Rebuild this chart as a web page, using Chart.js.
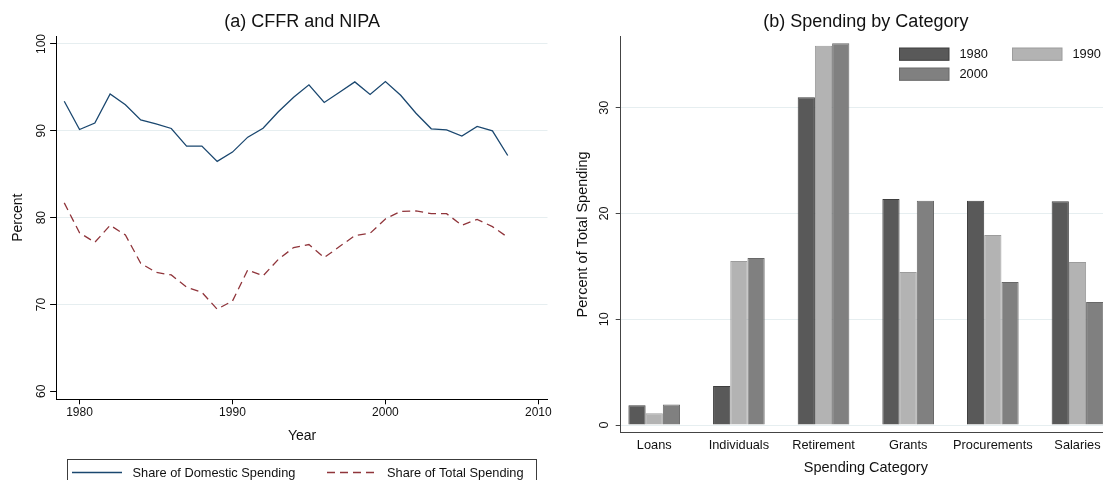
<!DOCTYPE html>
<html>
<head>
<meta charset="utf-8">
<script src="https://cdn.jsdelivr.net/npm/chart.js@4.4.1/dist/chart.umd.min.js"></script>
<style>
  html,body{margin:0;padding:0;background:#fff}
  body{width:1103px;height:480px;overflow:hidden;position:relative}
  .panel{position:absolute;top:0;height:480px}
</style>
</head>
<body>
<div class="panel" style="left:0;width:604px"><canvas id="cffrChart" width="604" height="480"></canvas></div>
<div class="panel" style="left:560px;width:612px"><canvas id="categoryChart" width="612" height="480"></canvas></div>
<script>
// ── Panel (a): shares by year ──
var years=[1979,1980,1981,1982,1983,1984,1985,1986,1987,1988,1989,1990,1991,1992,1993,1994,1995,1996,1997,1998,1999,2000,2001,2002,2003,2004,2005,2006,2007,2008];
var domesticShare=[93.4,90.15,90.9,94.25,93.0,91.26,90.8,90.27,88.24,88.24,86.48,87.55,89.27,90.3,92.2,93.87,95.3,93.26,94.44,95.63,94.18,95.67,94.1,92.03,90.23,90.1,89.4,90.5,90.0,87.16];
var totalShare=[81.7,78.25,77.16,79.12,78.0,74.75,73.7,73.4,72.0,71.4,69.46,70.4,73.98,73.3,75.2,76.55,76.9,75.4,76.67,77.93,78.2,79.85,80.73,80.77,80.46,80.46,79.12,79.8,78.97,77.74];
var yearTicks=[1980,1990,2000,2010];
var percentTicks=[60,70,80,90,100];

// ── Panel (b): spending by category ──
var categories=['Loans','Individuals','Retirement','Grants','Procurements','Salaries'];
var share1980=[1.86,3.69,31.0,21.38,21.2,21.16];
var share1990=[1.1,15.5,35.86,14.47,17.97,15.42];
var share2000=[1.95,15.8,36.1,21.2,13.53,11.64];
var categoryTicks=[0,10,20,30];

var FONT='"Liberation Sans", Arial, Helvetica, sans-serif';
var GRID='#e6eef0';

function toPoints(xs,ys){return xs.map(function(x,i){return {x:x,y:ys[i]}})}
function fixedTicks(list){return function(s){s.ticks=list.map(function(v){return {value:v}})}}
function plainLabel(v){return String(v)}
var catIndex=categories.map(function(c,i){return i});

// panel heading, centred over the plot region rather than the whole canvas
var panelTitle={
  id:'panelTitle',
  afterDraw:function(chart,args,opts){
    var a=chart.chartArea, ctx=chart.ctx;
    ctx.save();
    ctx.font='18px '+FONT;ctx.fillStyle='#111';ctx.textAlign='center';ctx.textBaseline='middle';
    ctx.fillText(opts.text,(a.left+a.right)/2,22);
    ctx.restore();
  }
};

// boxed legend under panel (a), line samples taken from the datasets
var lineLegend={
  id:'lineLegend',
  afterDraw:function(chart){
    var ctx=chart.ctx, pos=[[72,122,132.5],[327,376,387]];
    ctx.save();
    ctx.strokeStyle='#3c3c3c';ctx.lineWidth=1;
    ctx.strokeRect(67.5,459.5,469,40);
    ctx.font='12.8px '+FONT;ctx.fillStyle='#111';ctx.textBaseline='middle';ctx.textAlign='left';
    chart.data.datasets.forEach(function(ds,i){
      var p=pos[i];
      ctx.beginPath();
      ctx.strokeStyle=ds.borderColor;ctx.lineWidth=ds.borderWidth;
      ctx.setLineDash(ds.borderDash||[]);
      ctx.moveTo(p[0],472.5);ctx.lineTo(p[1],472.5);ctx.stroke();
      ctx.setLineDash([]);
      ctx.fillText(ds.label,p[2],473);
    });
    ctx.restore();
  }
};

// two-column legend inside panel (b)
var barLegend={
  id:'barLegend',
  afterDraw:function(chart){
    var ctx=chart.ctx, pos=[[339.5,48],[452.5,48],[339.5,68]];
    ctx.save();
    ctx.font='12.8px '+FONT;ctx.textBaseline='middle';ctx.textAlign='left';
    chart.data.datasets.forEach(function(ds,i){
      var p=pos[i];
      ctx.fillStyle=ds.backgroundColor;ctx.fillRect(p[0],p[1],49.5,12.3);
      ctx.strokeStyle=ds.borderColor;ctx.lineWidth=1;ctx.strokeRect(p[0],p[1],49.5,12.3);
      ctx.fillStyle='#111';ctx.fillText(ds.label,p[0]+60,p[1]+6);
    });
    ctx.restore();
  }
};

new Chart(document.getElementById('cffrChart'),{
  type:'line',
  data:{datasets:[
    {label:'Share of Domestic Spending',data:toPoints(years,domesticShare),borderColor:'#1a476f',borderWidth:1.3,pointRadius:0,tension:0,fill:false},
    {label:'Share of Total Spending',data:toPoints(years,totalShare),borderColor:'#90353b',borderWidth:1.3,borderDash:[8,5],pointRadius:0,tension:0,fill:false}
  ]},
  options:{
    responsive:false,animation:false,
    layout:{padding:{left:0,right:56.5,top:36,bottom:0}},
    plugins:{
      legend:{display:false},tooltip:{enabled:false},title:{display:false},
      panelTitle:{text:'(a) CFFR and NIPA'}
    },
    scales:{
      x:{type:'linear',min:1978.5,max:2010.6,
        afterBuildTicks:fixedTicks(yearTicks),
        afterFit:function(s){s.height=80.7},
        grid:{drawOnChartArea:false,tickLength:5,tickColor:'#000'},
        border:{color:'#000',width:1},
        ticks:{color:'#111',font:{family:FONT,size:12},padding:1.5,autoSkip:false,maxRotation:0,callback:plainLabel},
        title:{display:true,text:'Year',color:'#111',font:{family:FONT,size:14},padding:{top:0,bottom:35.6}}
      },
      y:{type:'linear',min:59.08,max:100.92,
        afterBuildTicks:fixedTicks(percentTicks),
        afterFit:function(s){s.width=56.6},
        grid:{color:function(c){return c.tick&&c.tick.value===60?'rgba(0,0,0,0)':GRID},tickLength:6.5,tickColor:'#000'},
        border:{color:'#000',width:1},
        ticks:{color:'#111',font:{family:FONT,size:12},padding:-1.5,autoSkip:false,minRotation:90,maxRotation:90,crossAlign:'center',callback:plainLabel},
        title:{display:true,text:'Percent',color:'#111',font:{family:FONT,size:14},padding:{top:9.6,bottom:0}}
      }
    }
  },
  plugins:[panelTitle,lineLegend]
});

new Chart(document.getElementById('categoryChart'),{
  type:'bar',
  data:{datasets:[
    {label:'1980',data:toPoints(catIndex,share1980),backgroundColor:'#595959',borderColor:'#3e3e3e',borderWidth:1},
    {label:'1990',data:toPoints(catIndex,share1990),backgroundColor:'#b3b3b3',borderColor:'#9c9c9c',borderWidth:1},
    {label:'2000',data:toPoints(catIndex,share2000),backgroundColor:'#808080',borderColor:'#686868',borderWidth:1}
  ]},
  options:{
    responsive:false,animation:false,
    layout:{padding:{left:0,right:61,top:36,bottom:0}},
    datasets:{bar:{categoryPercentage:0.61,barPercentage:1}},
    plugins:{
      legend:{display:false},tooltip:{enabled:false},title:{display:false},
      panelTitle:{text:'(b) Spending by Category'}
    },
    scales:{
      x:{type:'linear',min:-0.396,max:5.396,offset:false,
        afterBuildTicks:fixedTicks(catIndex),
        afterFit:function(s){s.height=47.3},
        grid:{display:true,offset:false,drawOnChartArea:false,drawTicks:false},
        border:{color:'#444',width:1},
        ticks:{color:'#111',font:{family:FONT,size:12.8},padding:4.9,autoSkip:false,maxRotation:0,
          callback:function(v){return categories[v]}},
        title:{display:true,text:'Spending Category',color:'#111',font:{family:FONT,size:14.5},padding:{top:0,bottom:3.3}}
      },
      y:{type:'linear',min:-0.728,max:36.78,
        afterBuildTicks:fixedTicks(categoryTicks),
        afterFit:function(s){s.width=60.7},
        grid:{color:GRID,tickLength:5,tickColor:'#444'},
        border:{color:'#444',width:1},
        ticks:{color:'#111',font:{family:FONT,size:12.8},padding:3.9,autoSkip:false,minRotation:90,maxRotation:90,crossAlign:'center',callback:plainLabel},
        title:{display:true,text:'Percent of Total Spending',color:'#111',font:{family:FONT,size:14.5},padding:{top:14.3,bottom:0}}
      }
    }
  },
  plugins:[panelTitle,barLegend]
});
</script>
</body>
</html>
